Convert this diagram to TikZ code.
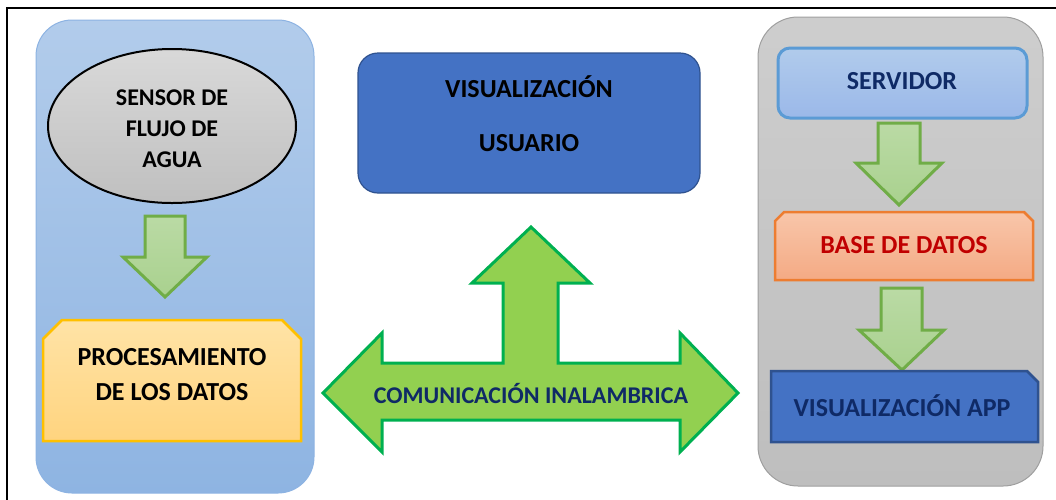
\documentclass[tikz,border=0pt]{standalone}
\usepackage{fontspec}
\setmainfont{Carlito}
\usepackage{xcolor}
\usepackage{tikz}

\definecolor{panelblue}{HTML}{A3C2E8}
\definecolor{paneltop}{HTML}{B2CCEB}
\definecolor{panelbot}{HTML}{8EB4E2}
\definecolor{panelline}{HTML}{8DB3E2}
\definecolor{panelgray}{HTML}{C8C8C8}
\definecolor{boxblue}{HTML}{4472C4}
\definecolor{boxblueline}{HTML}{2F528F}
\definecolor{arrowfill}{HTML}{A9D18E}
\definecolor{arrowline}{HTML}{70AD47}
\definecolor{bigfill}{HTML}{92D050}
\definecolor{bigline}{HTML}{00B050}
\definecolor{navy}{HTML}{0F2A66}
\definecolor{darkred}{HTML}{C00000}
\definecolor{proctop}{HTML}{FFE3A6}
\definecolor{procbot}{HTML}{FFD47F}
\definecolor{procline}{HTML}{FFC000}
\definecolor{basetop}{HTML}{F8C6AA}
\definecolor{basebot}{HTML}{F4AA84}
\definecolor{baseline}{HTML}{ED7D31}
\definecolor{servline}{HTML}{5B9BD5}

\begin{document}
\begin{tikzpicture}[x=1pt, y=-1pt, line join=miter,
    every node/.style={font=\fontsize{26}{31}\selectfont\bfseries, align=center},
    smallarrow/.style={draw=arrowline, line width=3pt, top color=arrowfill!80!white, bottom color=arrowfill}]
    \useasboundingbox (0,0) rectangle (1056,499);
    % Outer frame
    \draw[line width=2pt] (7,510) -- (7,8) -- (1070,8);
    % Module Sensor (left panel)
    \draw[draw=panelline, line width=1pt, rounded corners=36,
          top color=paneltop, bottom color=panelbot]
          (36,20) rectangle (314,493);
    \draw[line width=2pt, top color=gray!30, bottom color=gray!50] (172,126) ellipse [x radius=124, y radius=77];
    \node[font=\fontsize{24}{31}\selectfont\bfseries] (sensor) at (172,129) {SENSOR DE\\FLUJO DE\\AGUA};
    \draw[smallarrow] (145,216) -- (185,216) -- (185,257) -- (207,257) -- (165,297)
          -- (123,257) -- (145,257) -- cycle;
    \draw[draw=procline, line width=2.5pt, top color=proctop, bottom color=procbot]
          (43,441) -- (43,339) -- (62,320) -- (282,320) -- (301,339) -- (301,441) -- cycle;
    \node[font=\fontsize{26}{35}\selectfont\bfseries] (proc) at (172,375) {PROCESAMIENTO\\DE LOS DATOS};
    % Module Visualizacion usuario
    \draw[draw=boxblueline, line width=1.2pt, fill=boxblue, rounded corners=20] (358,53) rectangle (700,193);
    \node (visuser) at (529,114) {VISUALIZACIÓN\\[23pt]USUARIO};
    % Comunicacion inalambrica
    \draw[draw=bigline, line width=3pt, fill=bigfill]
          (323,393) -- (382,333) -- (382,363) -- (503,363) -- (503,283) -- (472,283)
          -- (531,227) -- (590,283) -- (558,283) -- (558,363) -- (680,363) -- (680,333)
          -- (738,393) -- (680,452) -- (680,420) -- (382,420) -- (382,452) -- cycle;
    \node[text=navy, font=\fontsize{24}{28}\selectfont\bfseries] (comm) at (531,393) {COMUNICACIÓN INALAMBRICA};
    % Module Servidor (right panel)
    \draw[draw=gray!75, line width=1pt, rounded corners=40,
          top color=panelgray!90!white, bottom color=panelgray!95!black]
          (758,17) rectangle (1043,486);
    \draw[draw=servline, line width=3pt, rounded corners=12,
          top color=panelblue!85!white, bottom color=panelblue!95!blue]
          (778,48) rectangle (1027,118);
    \node[text=navy] (servidor) at (902,81) {SERVIDOR};
    \draw[smallarrow] (878,123) -- (920,123) -- (920,163) -- (942,163) -- (899,205)
          -- (856,163) -- (878,163) -- cycle;
    \draw[draw=baseline, line width=2.5pt, top color=basetop, bottom color=basebot]
          (775,280) -- (775,221) -- (784,212) -- (1024,212) -- (1033,221) -- (1033,280) -- cycle;
    \node[text=darkred] (basedatos) at (904,245) {BASE DE DATOS};
    \draw[smallarrow] (881,288) -- (922,288) -- (922,330) -- (944,330) -- (902,370)
          -- (859,330) -- (881,330) -- cycle;
    \draw[draw=boxblueline, line width=2.5pt, fill=boxblue]
          (771,371) -- (1027,371) -- (1038,382) -- (1038,442) -- (771,442) -- cycle;
    \node[text=navy] (visapp) at (902,406) {VISUALIZACIÓN APP};
\end{tikzpicture}
\end{document}
